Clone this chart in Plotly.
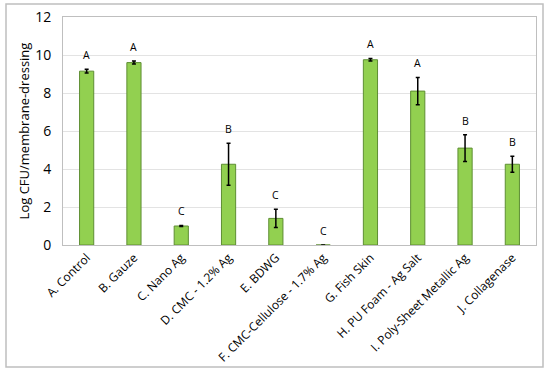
import plotly.graph_objects as go

categories = ["A. Control", "B. Gauze", "C. Nano Ag", "D. CMC - 1.2% Ag", "E. BDWG",
              "F. CMC-Cellulose - 1.7% Ag", "G. Fish Skin", "H. PU Foam - Ag Salt",
              "I. Poly-Sheet Metallic Ag", "J. Collagenase"]
values = [9.15, 9.6, 1.0, 4.25, 1.4, 0.0, 9.75, 8.1, 5.1, 4.25]
errors = [0.1, 0.08, 0.03, 1.1, 0.48, 0.0, 0.07, 0.72, 0.7, 0.42]
letters = ["A", "A", "C", "B", "C", "C", "A", "A", "B", "B"]
y_ticks = [0, 2, 4, 6, 8, 10, 12]

font = "Open Sans, Liberation Sans, sans-serif"

fig = go.Figure()
fig.add_trace(go.Bar(
    x=categories, y=values, width=0.3,
    marker=dict(color="#92D050", line=dict(color="#5E8E33", width=1)),
    error_y=dict(type="data", array=errors, visible=True, color="black", thickness=1.5, width=2),
))

for c, v, e, l in zip(categories, values, errors, letters):
    fig.add_annotation(x=c, y=v + e, text=l, showarrow=False, yanchor="bottom", yshift=5,
                       font=dict(size=10.5, color="black", family=font))

# outer chart border (page px: x 6..543, y 4..367; plot area x 63..536, y 17..245)
fig.add_shape(type="rect", xref="paper", yref="paper", x0=-0.1205, x1=1.0148, y0=-0.535, y1=1.057,
              line=dict(color="#BFBFBF", width=1.5), layer="below")

fig.update_layout(
    width=550, height=374,
    margin=dict(l=63, r=14, t=17, b=129),
    paper_bgcolor="white", plot_bgcolor="white",
    showlegend=False, font=dict(family=font, color="black"),
    xaxis=dict(tickangle=-45, tickfont=dict(size=12), showline=True, linecolor="#BFBFBF",
               mirror=True, ticks="", showgrid=False, automargin=False),
    yaxis=dict(range=[0, 12], tickmode="array", tickvals=y_ticks, tickfont=dict(size=14),
               showline=True, linecolor="#BFBFBF", mirror=True, gridcolor="#E3E3E3", ticks="",
               ticklabelstandoff=8,
               title=dict(text="Log CFU/membrane-dressing", font=dict(size=13), standoff=2),
               zeroline=False, automargin=False),
)
fig.write_html("out.html", config={"displayModeBar": False},
               post_script="document.body.style.margin='0';")
